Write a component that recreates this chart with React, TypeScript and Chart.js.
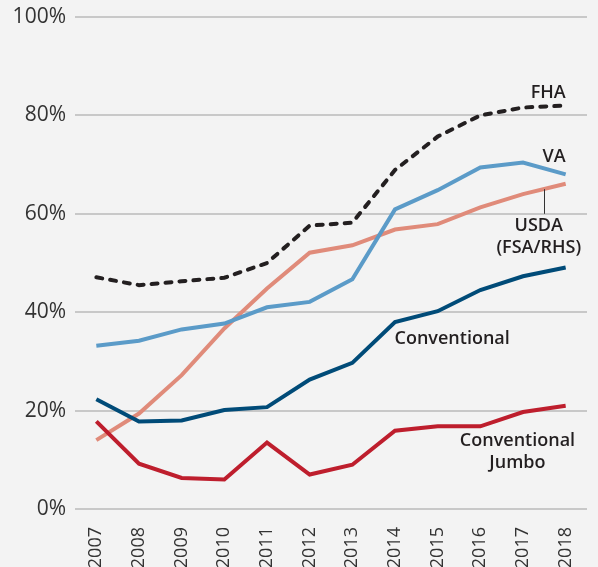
import React, { useEffect, useRef } from "react";
import { Chart, registerables } from "chart.js";

Chart.register(...registerables);

const years = ["2007","2008","2009","2010","2011","2012","2013","2014","2015","2016","2017","2018"];
const fha = [47.1, 45.5, 46.3, 47.0, 50.0, 57.6, 58.2, 68.9, 75.7, 80.0, 81.6, 82.0];
const va = [33.2, 34.2, 36.5, 37.7, 41.0, 42.1, 46.7, 60.9, 64.8, 69.4, 70.4, 68.0];
const usda = [14.0, 19.4, 27.2, 36.7, 44.8, 52.1, 53.6, 56.8, 57.9, 61.3, 64.0, 66.1];
const conventional = [22.3, 17.8, 18.0, 20.1, 20.7, 26.3, 29.7, 38.0, 40.2, 44.5, 47.3, 49.1];
const jumbo = [17.8, 9.2, 6.3, 6.0, 13.5, 7.0, 9.0, 15.9, 16.8, 16.8, 19.7, 21.0];
const yTicks = [0, 20, 40, 60, 80, 100];

// Series labels: text lines, anchor position in data terms (category index, value), alignment
const seriesLabels = [
  { lines: ["FHA"], x: 11, y: 84.6, align: "right" },
  { lines: ["VA"], x: 11, y: 71.6, align: "right" },
  { lines: ["USDA", "(FSA/RHS)"], x: 10.37, y: 57.5, align: "center" },
  { lines: ["Conventional"], x: 8.34, y: 34.5, align: "center" },
  { lines: ["Conventional", "Jumbo"], x: 9.87, y: 13.8, align: "center" },
];
// Leader line from USDA series down to label (category index, value from, value to)
const leader = { x: 10.5, from: 65.0, to: 60.0 };

const BG = "#f3f3f3";
const TEXT = "#231f20";
const FONT = "'Open Sans', sans-serif";

export default function App() {
  const ref = useRef<HTMLCanvasElement | null>(null);

  useEffect(() => {
    document.body.style.margin = "0";
    document.body.style.background = BG;
    const canvas = ref.current;
    if (!canvas) return;

    const bgPlugin = {
      id: "bg",
      beforeDraw(chart: any) {
        const { ctx, width, height } = chart;
        ctx.save();
        ctx.fillStyle = BG;
        ctx.fillRect(0, 0, width, height);
        ctx.restore();
      },
    };

    const labelPlugin = {
      id: "labels",
      afterDatasetsDraw(chart: any) {
        const { ctx } = chart;
        const xs = chart.scales.x;
        const ys = chart.scales.y;
        ctx.save();
        ctx.strokeStyle = "#333";
        ctx.lineWidth = 1;
        const lx = Math.round(xs.getPixelForValue(leader.x)) + 0.5;
        ctx.beginPath();
        ctx.moveTo(lx, ys.getPixelForValue(leader.from));
        ctx.lineTo(lx, ys.getPixelForValue(leader.to));
        ctx.stroke();

        ctx.fillStyle = TEXT;
        ctx.font = `600 18px ${FONT}`;
        ctx.textBaseline = "middle";
        const lineH = 22;
        seriesLabels.forEach((l) => {
          const px = xs.getPixelForValue(l.x);
          const py = ys.getPixelForValue(l.y);
          ctx.textAlign = l.align as CanvasTextAlign;
          l.lines.forEach((t, i) => ctx.fillText(t, px, py + i * lineH));
        });
        ctx.restore();
      },
    };

    const common = { pointRadius: 0, pointHoverRadius: 0, borderWidth: 4, tension: 0, fill: false };

    const chart = new Chart(canvas, {
      type: "line",
      data: {
        labels: years,
        datasets: [
          { label: "Conventional Jumbo", data: jumbo, borderColor: "#be1e2d", ...common },
          { label: "Conventional", data: conventional, borderColor: "#004b78", ...common },
          { label: "VA", data: va, borderColor: "#5b9bc8", ...common },
          { label: "USDA (FSA/RHS)", data: usda, borderColor: "#e08b7a", ...common },
          {
            label: "FHA",
            data: fha,
            borderColor: "#231f20",
            borderDash: [6, 8],
            borderCapStyle: "round",
            ...common,
          },
        ],
      },
      options: {
        responsive: false,
        animation: false,
        layout: { padding: { top: 17, right: 11, left: 0, bottom: 0 } },
        plugins: { legend: { display: false }, tooltip: { enabled: false } },
        scales: {
          x: {
            offset: true,
            grid: { display: false },
            border: { display: false },
            ticks: {
              color: "#333",
              font: { family: FONT, size: 18 },
              maxRotation: 90,
              minRotation: 90,
              padding: 10,
              autoSkip: false,
            },
            afterFit(scale: any) {
              scale.height = 58;
            },
          },
          y: {
            min: 0,
            max: 100,
            afterBuildTicks(scale: any) {
              scale.ticks = yTicks.map((v) => ({ value: v }));
            },
            grid: { color: "#c8c8c8", lineWidth: 2, drawTicks: false },
            border: { display: false },
            ticks: {
              color: "#333",
              font: { family: FONT, size: 21 },
              padding: 9,
              callback: (v: any) => `${v}%`,
            },
            afterFit(scale: any) {
              scale.width = 75;
              scale.paddingTop = 0;
              scale.paddingBottom = 0;
            },
          },
        },
      },
      plugins: [bgPlugin, labelPlugin],
    });
    return () => chart.destroy();
  }, []);

  return <canvas ref={ref} width={598} height={567} style={{ display: "block" }} />;
}
